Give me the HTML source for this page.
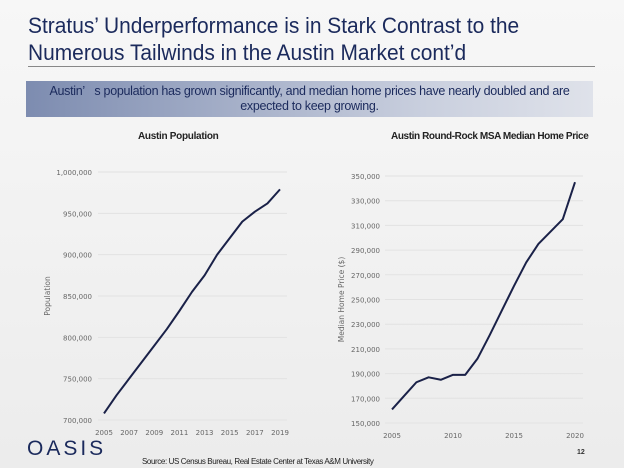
<!DOCTYPE html>
<html><head><meta charset="utf-8"><style>
body{margin:0;width:624px;height:468px;overflow:hidden;background:linear-gradient(180deg,#f7f7f7,#ececec);font-family:"Liberation Sans",sans-serif;position:relative}
.t{position:absolute;white-space:nowrap}
</style></head><body>
<div class="t" style="left:28px;top:12px;font-size:22.5px;line-height:27px;color:#1b2a5c;transform:scaleX(0.93);transform-origin:0 0">Stratus’ Underperformance is in Stark Contrast to the<br>Numerous Tailwinds in the Austin Market cont’d</div>
<div style="position:absolute;left:28px;top:66px;width:567px;height:1px;background:#888"></div>
<div style="position:absolute;left:26px;top:81px;width:567px;height:36px;background:linear-gradient(90deg,#7d8cb0,#c9cfde 70%,#dfe2ea);color:#1b2a5c;font-size:12.5px;line-height:15px;text-align:center;padding-top:3px;box-sizing:border-box;letter-spacing:-0.3px">Austin’&nbsp;&nbsp;&nbsp;s population has grown significantly, and median home prices have nearly doubled and are<br>expected to keep growing.</div>
<div class="t" style="left:138px;top:131px;font-size:10px;font-weight:bold;color:#222;letter-spacing:-0.3px">Austin Population</div>
<div class="t" style="left:391px;top:131px;font-size:10px;font-weight:bold;color:#222;letter-spacing:-0.4px">Austin Round-Rock MSA Median Home Price</div>
<svg id="chart" width="624" height="468" style="position:absolute;left:0;top:0"></svg>
<div class="t" style="left:27px;top:437px;font-size:21px;letter-spacing:3px;color:#1b2a5c">OASIS</div>
<div class="t" style="left:142px;top:457px;font-size:8px;color:#222;letter-spacing:-0.4px">Source: US Census Bureau, Real Estate Center at Texas A&amp;M University</div>
<div class="t" style="left:577px;top:449px;font-size:7px;font-weight:bold;color:#333">12</div>
<script>
const popYears=[2005,2006,2007,2008,2009,2010,2011,2012,2013,2014,2015,2016,2017,2018,2019];
const popValues=[708000,730000,750000,770000,790000,810000,832000,855000,875000,900000,920000,940000,952000,962000,979000];
const popTicks=[700000,750000,800000,850000,900000,950000,1000000];
const popXTicks=[2005,2007,2009,2011,2013,2015,2017,2019];
const priceYears=[2005,2006,2007,2008,2009,2010,2011,2012,2013,2014,2015,2016,2017,2018,2019,2020];
const priceValues=[161000,172000,183000,187000,185000,189000,189000,202000,221000,241000,261000,280000,295000,305000,315000,345000];
const priceTicks=[150000,170000,190000,210000,230000,250000,270000,290000,310000,330000,350000];
const priceXTicks=[2005,2010,2015,2020];
const svg=document.getElementById('chart');const NS='http://www.w3.org/2000/svg';
function mk(t,a,txt){const e=document.createElementNS(NS,t);for(const k in a)e.setAttribute(k,a[k]);if(txt!=null)e.textContent=txt;svg.appendChild(e);return e;}
function draw(c){
 const x=v=>c.x0+(v-c.xmin)/(c.xmax-c.xmin)*(c.x1-c.x0);
 const y=v=>c.y0+(v-c.ymin)/(c.ymax-c.ymin)*(c.y1-c.y0);
 c.yt.forEach(v=>{const g=mk('line',{x1:c.gx0,x2:c.gx1,y1:y(v),y2:y(v),stroke:'#e2e2e2','stroke-width':1});
  
  const t=mk('text',{x:c.lx,y:y(v)+3,'text-anchor':'end','font-size':7,fill:'#666','font-family':'DejaVu Sans, sans-serif'},v.toLocaleString('en-US'));
  });
 c.xt.forEach(v=>{const t=mk('text',{x:x(v),y:c.xly,'text-anchor':'middle','font-size':7,fill:'#666','font-family':'DejaVu Sans, sans-serif'},v);
  });
 const p=mk('polyline',{points:c.xs.map((v,i)=>x(v)+','+y(c.ys[i])).join(' '),fill:'none',stroke:'#1a2148','stroke-width':2,'stroke-linejoin':'round'});
 
 const a=mk('text',{transform:`translate(${c.ax},${(c.y0+c.y1)/2}) rotate(-90)`,'text-anchor':'middle','font-size':7.5,fill:'#666','font-family':'DejaVu Sans, sans-serif'},c.title);
 
}
draw({name:'population-line',xs:popYears,ys:popValues,xmin:2005,xmax:2019,x0:104,x1:280,ymin:700000,ymax:1000000,y0:420,y1:172,yt:popTicks,xt:popXTicks,gx0:98,gx1:287,lx:92,xly:435,ax:50,title:'Population'});
draw({name:'home-price-line',xs:priceYears,ys:priceValues,xmin:2005,xmax:2020,x0:392,x1:575,ymin:150000,ymax:350000,y0:423,y1:176,yt:priceTicks,xt:priceXTicks,gx0:385,gx1:583,lx:380,xly:438,ax:344,title:'Median Home Price ($)'});
</script>
</body></html>
